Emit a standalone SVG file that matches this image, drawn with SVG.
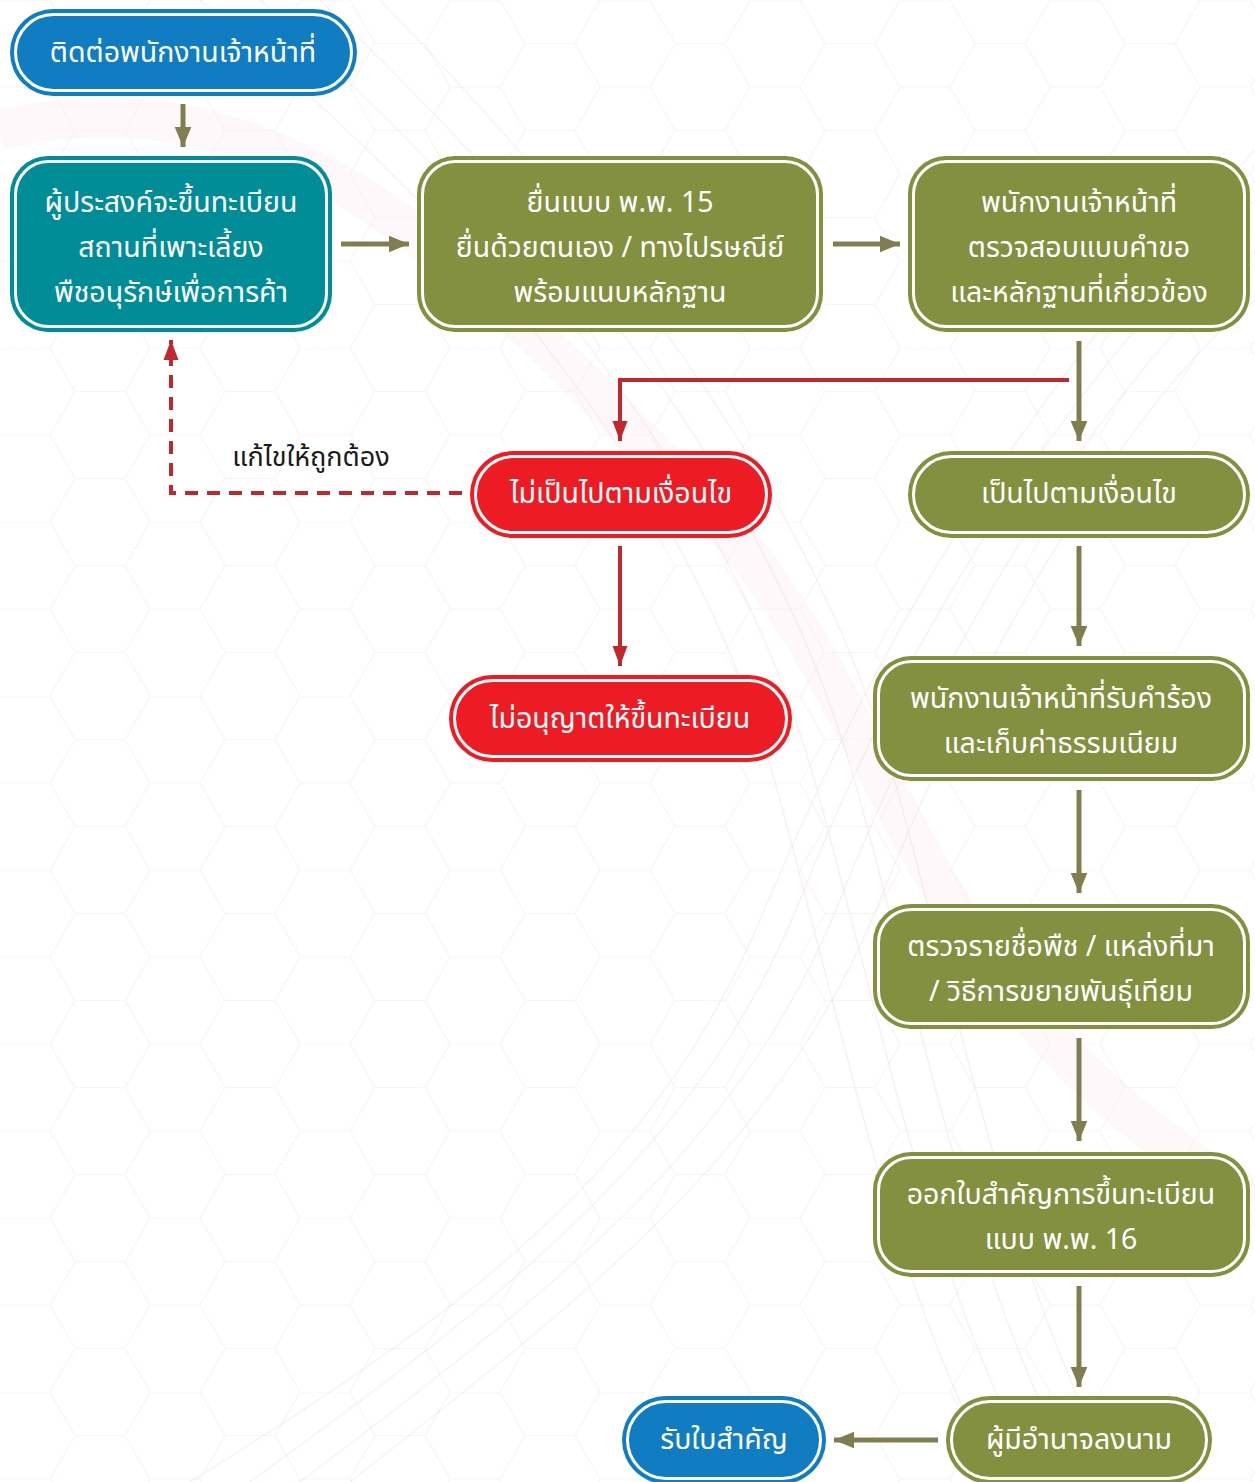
<svg xmlns="http://www.w3.org/2000/svg" width="1255" height="1482" viewBox="0 0 1255 1482">
<defs>
<style>
.t{font-family:"Noto Sans Thai","Noto Sans",sans-serif;font-size:28.5px;fill:#ffffff;text-anchor:middle}
.lbl{font-family:"Noto Sans Thai","Noto Sans",sans-serif;font-size:27px;fill:#1a1a1a;text-anchor:middle}
.in{fill:none;stroke:#ffffff;stroke-width:3}
.blue{fill:#107dc2}
.teal{fill:#008d97}
.olive{fill:#82903f}
.red{fill:#ed1c24}
.ca{fill:none;stroke:#807e50;stroke-width:5}
.cr{fill:none;stroke:#c1272d;stroke-width:4}
.cd{fill:none;stroke:#c1272d;stroke-width:4;stroke-dasharray:13 9}
.bg{fill:none;stroke:#f2c6d0;stroke-width:1;opacity:0.4}
.hex{fill:none;stroke:#f3e8eb;stroke-width:1.2}
</style>
<marker id="ah" markerWidth="20" markerHeight="20" viewBox="0 0 24 20" refX="24" refY="10" markerUnits="userSpaceOnUse" orient="auto">
<path d="M0,0 L24,10 L0,20 Z" fill="#807e50"/>
</marker>
<marker id="ahr" markerWidth="20" markerHeight="18" viewBox="0 0 24 18" refX="24" refY="9" markerUnits="userSpaceOnUse" orient="auto">
<path d="M0,0 L24,9 L0,18 Z" fill="#c1272d"/>
</marker>
<pattern id="hexp" width="150" height="174" patternUnits="userSpaceOnUse">
<path class="hex" d="M0,0 L50,0 L75,43.5 L50,87 L0,87 M75,43.5 L125,43.5 L150,0 M125,43.5 L150,87 L125,130.5 L75,130.5 L50,87 M125,130.5 L150,174 M75,130.5 L50,174"/>
</pattern>
</defs>
<g id="background">
<rect width="1255" height="1482" fill="#ffffff"/>
<rect width="1255" height="1482" fill="url(#hexp)" opacity="0.5"/>
<path d="M0,130 C300,60 500,300 700,500 C900,700 900,1000 1255,1200" fill="none" stroke="#fbeaf0" stroke-width="40" opacity="0.35"/>
<path class="bg" d="M200,0 C500,250 700,500 780,800 C860,1100 900,1300 1000,1482"/>
<path class="bg" d="M260,0 C540,250 740,500 820,800 C900,1100 940,1300 1040,1482"/>
<path class="bg" d="M320,0 C580,250 780,500 860,800 C940,1100 980,1300 1080,1482"/>
<path class="bg" d="M380,0 C620,250 820,500 900,800 C980,1100 1020,1300 1120,1482"/>
<path class="bg" d="M250,1482 C500,1300 700,1150 800,900 C900,650 1050,400 1255,200"/>
<path class="bg" d="M300,1482 C540,1300 740,1150 840,900 C940,650 1090,400 1255,250"/>
<path class="bg" d="M350,1482 C580,1300 780,1150 880,900 C980,650 1130,400 1255,300"/>
<path class="bg" d="M190,1482 C450,1320 650,1180 760,920 C870,660 1000,420 1255,150"/>
</g>
<g id="connectors">
<line class="ca" x1="183" y1="104" x2="183" y2="147" marker-end="url(#ah)"/>
<line class="ca" x1="341" y1="244" x2="409" y2="244" marker-end="url(#ah)"/>
<line class="ca" x1="833" y1="244" x2="900" y2="244" marker-end="url(#ah)"/>
<line class="ca" x1="1079" y1="341" x2="1079" y2="441" marker-end="url(#ah)"/>
<polyline class="cr" points="1069,380 620,380 620,441" marker-end="url(#ahr)"/>
<line class="cr" x1="620" y1="546" x2="620" y2="666" marker-end="url(#ahr)"/>
<polyline class="cd" points="462,493 171,493 171,340" marker-end="url(#ahr)"/>
<line class="ca" x1="1079" y1="546" x2="1079" y2="646" marker-end="url(#ah)"/>
<line class="ca" x1="1079" y1="790" x2="1079" y2="893" marker-end="url(#ah)"/>
<line class="ca" x1="1079" y1="1038" x2="1079" y2="1141" marker-end="url(#ah)"/>
<line class="ca" x1="1079" y1="1286" x2="1079" y2="1387" marker-end="url(#ah)"/>
<line class="ca" x1="938" y1="1440" x2="834" y2="1440" marker-end="url(#ah)"/>
<text class="lbl" x="311" y="466">แก้ไขให้ถูกต้อง</text>
</g>
<g id="n1">
<rect class="blue" x="10" y="9" width="347" height="87" rx="43.5"/>
<rect class="in" x="15.5" y="14.5" width="336" height="76" rx="38"/>
<text class="t" x="183" y="62">ติดต่อพนักงานเจ้าหน้าที่</text>
</g>
<g id="n2">
<rect class="teal" x="10" y="156" width="322" height="176" rx="38"/>
<rect class="in" x="15.5" y="161.5" width="311" height="165" rx="33"/>
<text class="t" x="171" y="212">ผู้ประสงค์จะขึ้นทะเบียน</text>
<text class="t" x="171" y="257">สถานที่เพาะเลี้ยง</text>
<text class="t" x="171" y="302">พืชอนุรักษ์เพื่อการค้า</text>
</g>
<g id="n3">
<rect class="olive" x="417" y="156" width="406" height="176" rx="38"/>
<rect class="in" x="422.5" y="161.5" width="395" height="165" rx="33"/>
<text class="t" x="620" y="212">ยื่นแบบ พ.พ. 15</text>
<text class="t" x="620" y="257">ยื่นด้วยตนเอง / ทางไปรษณีย์</text>
<text class="t" x="620" y="302">พร้อมแนบหลักฐาน</text>
</g>
<g id="n4">
<rect class="olive" x="908" y="156" width="342" height="176" rx="38"/>
<rect class="in" x="913.5" y="161.5" width="331" height="165" rx="33"/>
<text class="t" x="1079" y="212">พนักงานเจ้าหน้าที่</text>
<text class="t" x="1079" y="257">ตรวจสอบแบบคำขอ</text>
<text class="t" x="1079" y="302">และหลักฐานที่เกี่ยวข้อง</text>
</g>
<g id="n5">
<rect class="red" x="470" y="451" width="302" height="87" rx="43.5"/>
<rect class="in" x="475.5" y="456.5" width="291" height="76" rx="38"/>
<text class="t" x="621" y="503">ไม่เป็นไปตามเงื่อนไข</text>
</g>
<g id="n6">
<rect class="olive" x="908" y="451" width="342" height="87" rx="43.5"/>
<rect class="in" x="913.5" y="456.5" width="331" height="76" rx="38"/>
<text class="t" x="1079" y="503">เป็นไปตามเงื่อนไข</text>
</g>
<g id="n7">
<rect class="red" x="449" y="675" width="343" height="87" rx="43.5"/>
<rect class="in" x="454.5" y="680.5" width="332" height="76" rx="38"/>
<text class="t" x="620" y="728">ไม่อนุญาตให้ขึ้นทะเบียน</text>
</g>
<g id="n8">
<rect class="olive" x="873" y="656" width="377" height="125" rx="38"/>
<rect class="in" x="878.5" y="661.5" width="366" height="114" rx="33"/>
<text class="t" x="1061" y="708">พนักงานเจ้าหน้าที่รับคำร้อง</text>
<text class="t" x="1061" y="753">และเก็บค่าธรรมเนียม</text>
</g>
<g id="n9">
<rect class="olive" x="873" y="904" width="377" height="125" rx="38"/>
<rect class="in" x="878.5" y="909.5" width="366" height="114" rx="33"/>
<text class="t" x="1061" y="956">ตรวจรายชื่อพืช / แหล่งที่มา</text>
<text class="t" x="1061" y="1001">/ วิธีการขยายพันธุ์เทียม</text>
</g>
<g id="n10">
<rect class="olive" x="873" y="1152" width="377" height="125" rx="38"/>
<rect class="in" x="878.5" y="1157.5" width="366" height="114" rx="33"/>
<text class="t" x="1061" y="1204">ออกใบสำคัญการขึ้นทะเบียน</text>
<text class="t" x="1061" y="1249">แบบ พ.พ. 16</text>
</g>
<g id="n11">
<rect class="olive" x="946" y="1396" width="266" height="88" rx="44"/>
<rect class="in" x="951.5" y="1401.5" width="255" height="77" rx="38.5"/>
<text class="t" x="1079" y="1449">ผู้มีอำนาจลงนาม</text>
</g>
<g id="n12">
<rect class="blue" x="622" y="1396" width="204" height="88" rx="44"/>
<rect class="in" x="627.5" y="1401.5" width="193" height="77" rx="38.5"/>
<text class="t" x="724" y="1449">รับใบสำคัญ</text>
</g>
</svg>
